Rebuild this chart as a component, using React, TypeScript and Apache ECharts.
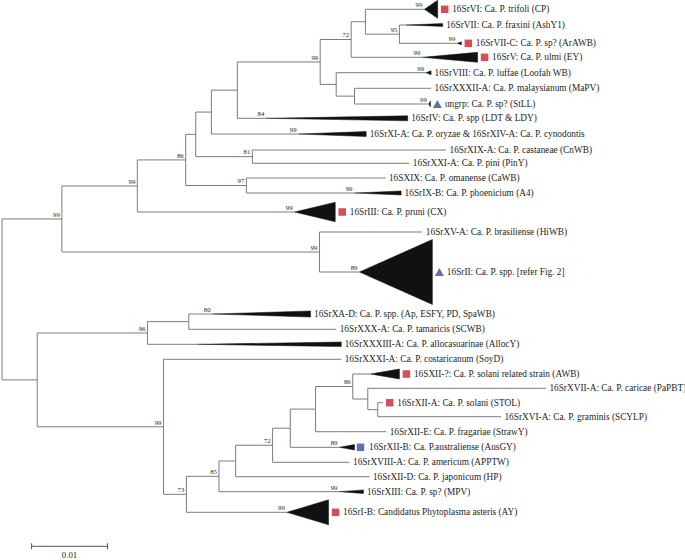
import React, { useEffect, useRef } from 'react';
import * as echarts from 'echarts';

// ---- Leaves (top to bottom) ----
const leafNames = [
  '16SrVI: Ca. P. trifoli (CP)',
  '16SrVII: Ca. P. fraxini (AshY1)',
  '16SrVII-C: Ca. P. sp? (ArAWB)',
  '16SrV: Ca. P. ulmi (EY)',
  '16SrVIII: Ca. P. luffae (Loofah WB)',
  '16SrXXXII-A: Ca. P. malaysianum (MaPV)',
  'ungrp: Ca. P. sp? (StLL)',
  '16SrIV: Ca. P. spp (LDT & LDY)',
  '16SrXI-A: Ca. P. oryzae & 16SrXIV-A: Ca. P. cynodontis',
  '16SrXIX-A: Ca. P. castaneae (CnWB)',
  '16SrXXI-A: Ca. P. pini (PinY)',
  '16SXIX: Ca. P. omanense (CaWB)',
  '16SrIX-B: Ca. P. phoenicium (A4)',
  '16SrIII: Ca. P. pruni (CX)',
  '16SrXV-A: Ca. P. brasiliense (HiWB)',
  '16SrII: Ca. P. spp. [refer Fig. 2]',
  '16SrXA-D: Ca. P. spp. (Ap, ESFY, PD, SpaWB)',
  '16SrXXX-A: Ca. P. tamaricis (SCWB)',
  '16SrXXXIII-A: Ca. P. allocasuarinae (AllocY)',
  '16SrXXXI-A: Ca. P. costaricanum (SoyD)',
  '16SXII-?: Ca. P. solani related strain (AWB)',
  '16SrXVII-A: Ca. P. caricae (PaPBT)',
  '16SrXII-A: Ca. P. solani (STOL)',
  '16SrXVI-A: Ca. P. graminis (SCYLP)',
  '16SrXII-E: Ca. P. fragariae (StrawY)',
  '16SrXII-B: Ca. P.australiense (AusGY)',
  '16SrXVIII-A: Ca. P. americum (APPTW)',
  '16SrXII-D: Ca. P. japonicum (HP)',
  '16SrXIII: Ca. P. sp? (MPV)',
  '16SrI-B: Candidatus Phytoplasma asteris (AY)',
];
const leafParent = ['I', 'J', 'J', 'H', 'K', 'L', 'L', 'F', 'E', 'D', 'D', 'M', 'M', 'A', 'N', 'N', 'Q', 'Q', 'P', 'R', 'Z', 'AA', 'AB', 'AB', 'Y', 'X', 'W', 'V', 'T', 'S'];
// vertical row position of each leaf
const leafY = [9.3, 25, 43.3, 57.3, 72.7, 88.3, 104, 118.3, 134, 150, 163.3, 178, 193, 212, 232, 272, 314, 329.3, 344.3, 359.3, 374, 388.3, 402.7, 416.7, 431.7, 447.3, 462.3, 476.7, 491.7, 512.3];
// distance from root to leaf tip (or to apex of collapsed clade)
const leafTip = [0.05566, 0.05325, 0.06, 0.05539, 0.05588, 0.05654, 0.05625, 0.03483, 0.03908, 0.05851, 0.05368, 0.05053, 0.04645, 0.03855, 0.05539, 0.04711, 0.02776, 0.04404, 0.02579, 0.0447, 0.04855, 0.07167, 0.05017, 0.06575, 0.05062, 0.04447, 0.04579, 0.04842, 0.04447, 0.03754];
// distance to far edge of collapsed clade (null = single sequence)
const cladeEnd = [0.05741, 0.05807, 0.06053, 0.06267, 0.05654, null, 0.05645, 0.05346, 0.04799, null, null, null, 0.05259, 0.04391, null, 0.05671, 0.04066, null, 0.0447, null, 0.05237, null, null, null, null, 0.04645, null, null, 0.04763, 0.04303];
// half height of collapsed clade (rows)
const cladeHalf = [9, 1.4, 1.5, 5, 2, 0, 3, 2.5, 2.5, 0, 0, 0, 2, 9.7, 0, 32.5, 3, 0, 2.3, 0, 5, 0, 0, 0, 0, 2.7, 0, 0, 1.8, 12.5];
const leafSupport = ['99', '', '99', '99', '99', '', '99', '84', '99', '', '', '', '99', '99', '', '89', '80', '', '', '', '', '', '', '', '', '89', '', '', '99', '99'];
const leafMarker = ['redSquare', '', 'redSquare', 'redSquare', '', '', 'blueTriangle', '', '', '', '', '', '', 'redSquare', '', 'blueTriangle', '', '', '', '', 'redSquare', '', 'redSquare', '', '', 'blueSquare', '', '', '', 'redSquare'];

// ---- Internal nodes ----
const nodeIds = ['root', 'U', 'Lo', 'A', 'N', 'B', 'C', 'D', 'E', 'F', 'G', 'H', 'I', 'J', 'K', 'L', 'M', 'P', 'Q', 'R', 'S', 'T', 'V', 'W', 'X', 'Y', 'Z', 'AA', 'AB'];
const nodeParent = ['', 'root', 'root', 'U', 'U', 'A', 'B', 'C', 'C', 'E', 'F', 'G', 'H', 'I', 'G', 'K', 'B', 'Lo', 'P', 'Lo', 'R', 'S', 'T', 'V', 'W', 'X', 'Y', 'Z', 'AA'];
const nodeDist = [0, 0.00789, 0.00464, 0.01783, 0.04184, 0.02421, 0.02553, 0.03299, 0.02759, 0.03101, 0.04193, 0.04601, 0.04789, 0.05237, 0.04404, 0.04645, 0.0322, 0.01917, 0.02461, 0.02128, 0.0243, 0.02859, 0.03079, 0.03566, 0.03799, 0.04132, 0.04622, 0.0482, 0.04951];
const nodeSupport = ['', '99', '', '99', '99', '86', '', '81', '', '', '99', '72', '', '95', '', '', '97', '96', '', '99', '73', '85', '', '72', '', '', '86', '', ''];

// ---- Scale bar ----
const scaleStart = 0.0039;
const scaleLength = 0.01;
const scaleRow = 546.3;
const scaleLabel = '0.01';

const SERIF = '"Liberation Serif", "Times New Roman", serif';

function buildTree() {
  const distById: Record<string, number> = {};
  nodeIds.forEach((id, i) => (distById[id] = nodeDist[i]));
  const yById: Record<string, number> = {};
  const childYs = (id: string): number[] => {
    const ys: number[] = [];
    leafParent.forEach((p, i) => { if (p === id) ys.push(leafY[i]); });
    nodeIds.forEach((n, i) => { if (nodeParent[i] === id) ys.push(getY(n)); });
    return ys;
  };
  const getY = (id: string): number => {
    if (yById[id] !== undefined) return yById[id];
    const ys = childYs(id);
    const y = (Math.min(...ys) + Math.max(...ys)) / 2;
    yById[id] = y;
    return y;
  };
  const segments: number[][] = [];
  nodeIds.forEach((id, i) => {
    const ys = childYs(id);
    const x = nodeDist[i];
    segments.push([x, Math.min(...ys), x, Math.max(...ys)]);
    if (nodeParent[i]) {
      const y = getY(id);
      segments.push([distById[nodeParent[i]], y, x, y]);
    }
  });
  leafParent.forEach((p, i) => {
    segments.push([distById[p], leafY[i], leafTip[i], leafY[i]]);
  });
  const supports: any[] = [];
  nodeIds.forEach((id, i) => {
    if (nodeSupport[i]) supports.push({ value: [nodeDist[i], getY(id)], name: nodeSupport[i] });
  });
  leafSupport.forEach((s, i) => {
    if (s) supports.push({ value: [leafTip[i], leafY[i]], name: s });
  });
  return { segments, supports };
}

export default function App() {
  const ref = useRef<HTMLDivElement>(null);
  useEffect(() => {
    const chart = echarts.init(ref.current!, null, { renderer: 'svg' });
    const { segments, supports } = buildTree();

    const clades: number[][] = [];
    leafNames.forEach((_, i) => {
      if (cladeEnd[i] !== null) clades.push([leafTip[i], cladeEnd[i] as number, leafY[i], cladeHalf[i]]);
    });
    const tipEnd = (i: number) => (cladeEnd[i] !== null ? (cladeEnd[i] as number) : leafTip[i]);
    const markerData = (kind: string) =>
      leafNames.map((_, i) => i).filter((i) => leafMarker[i] === kind).map((i) => [tipEnd(i), leafY[i]]);
    const labelData = leafNames.map((n, i) => ({ value: [tipEnd(i), leafY[i]], name: n, hasMarker: leafMarker[i] ? 1 : 0 }));

    const option: any = {
      animation: false,
      backgroundColor: '#ffffff',
      grid: { left: 2, top: 0, width: 684, height: 560, containLabel: false },
      xAxis: { type: 'value', min: 0, max: 0.09, show: false },
      yAxis: { type: 'value', min: 0, max: 560, inverse: true, show: false },
      series: [
        {
          type: 'custom',
          name: 'branches',
          data: segments,
          encode: { x: [0, 2], y: [1, 3] },
          clip: false,
          renderItem: (params: any, api: any) => {
            const a = api.coord([api.value(0), api.value(1)]);
            const b = api.coord([api.value(2), api.value(3)]);
            return {
              type: 'line',
              shape: { x1: a[0], y1: a[1], x2: b[0], y2: b[1] },
              style: { stroke: '#7c7c7c', lineWidth: 1 },
            };
          },
        },
        {
          type: 'custom',
          name: 'clades',
          data: clades,
          encode: { x: [0, 1], y: 2 },
          clip: false,
          renderItem: (params: any, api: any) => {
            const tip = api.value(0), end = api.value(1), y = api.value(2), h = api.value(3);
            return {
              type: 'polygon',
              shape: { points: [api.coord([tip, y]), api.coord([end, y - h]), api.coord([end, y + h])] },
              style: { fill: '#111111', stroke: '#111111', lineWidth: 0.5 },
            };
          },
        },
        {
          type: 'scatter', name: 'red', data: markerData('redSquare'), symbol: 'rect', symbolSize: 7.5,
          symbolOffset: [7, 0], itemStyle: { color: '#c8262c' }, silent: true,
        },
        {
          type: 'scatter', name: 'blueTri', data: markerData('blueTriangle'), symbol: 'triangle', symbolSize: [9, 8],
          symbolOffset: [7, 0], itemStyle: { color: '#3a4c9e' }, silent: true,
        },
        {
          type: 'scatter', name: 'blueSq', data: markerData('blueSquare'), symbol: 'rect', symbolSize: 7.5,
          symbolOffset: [6, 0], itemStyle: { color: '#3a4c9e' }, silent: true,
        },
        {
          type: 'custom',
          name: 'leafLabels',
          data: labelData,
          encode: { x: 0, y: 1 },
          clip: false,
          renderItem: (params: any, api: any) => {
            const p = api.coord([api.value(0), api.value(1)]);
            const d = labelData[params.dataIndex];
            return {
              type: 'text',
              x: p[0] + (d.hasMarker ? 14.5 : 3.5),
              y: p[1],
              style: {
                text: d.name, fill: '#1e1e1e', fontSize: 9.3, fontFamily: SERIF,
                align: 'left', verticalAlign: 'middle',
              },
            };
          },
        },
        {
          type: 'custom',
          name: 'support',
          data: supports,
          encode: { x: 0, y: 1 },
          clip: false,
          renderItem: (params: any, api: any) => {
            const p = api.coord([api.value(0), api.value(1)]);
            return {
              type: 'text',
              x: p[0] - 2,
              y: p[1] - 1.2,
              style: {
                text: supports[params.dataIndex].name, fill: '#2a2a2a', fontSize: 6.8, fontFamily: SERIF,
                align: 'right', verticalAlign: 'bottom',
              },
            };
          },
        },
        {
          type: 'custom',
          name: 'scale',
          data: [[scaleStart, scaleStart + scaleLength, scaleRow]],
          encode: { x: [0, 1], y: 2 },
          clip: false,
          renderItem: (params: any, api: any) => {
            const a = api.coord([api.value(0), api.value(2)]);
            const b = api.coord([api.value(1), api.value(2)]);
            const st = { stroke: '#555555', lineWidth: 1 };
            return {
              type: 'group',
              children: [
                { type: 'line', shape: { x1: a[0], y1: a[1], x2: b[0], y2: b[1] }, style: st },
                { type: 'line', shape: { x1: a[0], y1: a[1] - 3, x2: a[0], y2: a[1] + 3 }, style: st },
                { type: 'line', shape: { x1: b[0], y1: b[1] - 3, x2: b[0], y2: b[1] + 3 }, style: st },
                {
                  type: 'text', x: (a[0] + b[0]) / 2, y: a[1] + 4,
                  style: { text: scaleLabel, fill: '#222', fontSize: 8.8, fontFamily: SERIF, align: 'center', verticalAlign: 'top' },
                },
              ],
            };
          },
        },
      ],
    };
    chart.setOption(option);
    return () => chart.dispose();
  }, []);
  return <div ref={ref} style={{ position: 'absolute', left: 0, top: 0, width: 685, height: 560, background: '#fff' }} />;
}
